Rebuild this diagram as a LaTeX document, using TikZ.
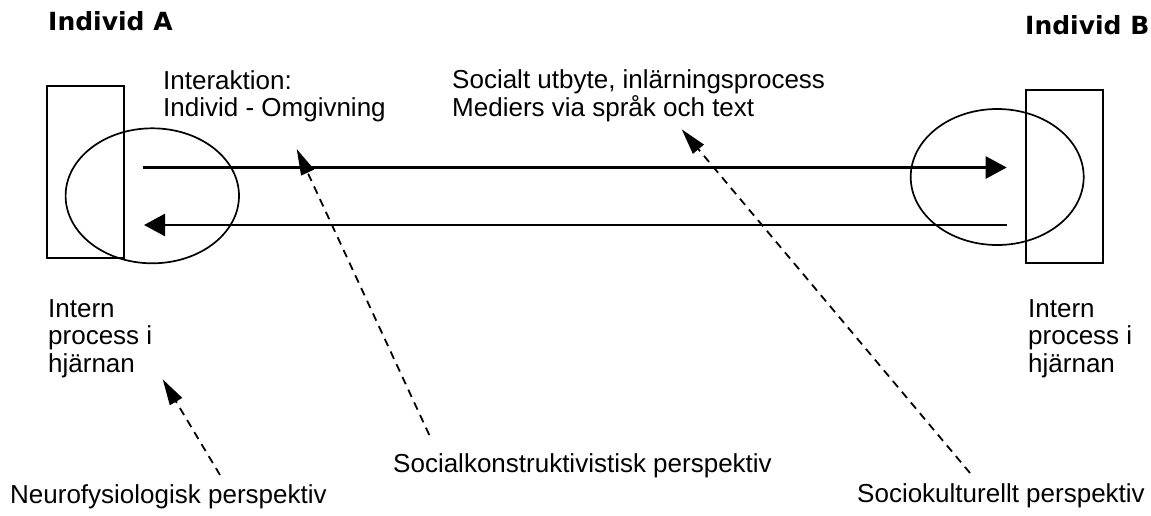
\documentclass[tikz,border=0pt]{standalone}
\usepackage{fontspec}
\setmainfont{Liberation Sans}
\newfontfamily\heavyfont{DejaVu Sans}
\usetikzlibrary{arrows.meta,shapes.geometric}
\tikzset{
  body/.style={font=\fontsize{26}{27.5}\selectfont, inner sep=0pt, anchor=base west, align=left},
  title/.style={font=\heavyfont\bfseries\fontsize{25}{28}\selectfont, inner sep=0pt, anchor=base west},
  boxshape/.style={draw, line width=1.7pt, rectangle, inner sep=0pt},
  oval/.style={draw, line width=1.7pt, ellipse, inner sep=0pt},
  flow/.style={line width=2.6pt, -{Triangle[length=21pt,width=22pt]}},
  pointer/.style={line width=1.8pt, dash pattern=on 8pt off 6pt, -{Triangle[length=26pt,width=14pt]}}
}
\begin{document}
\begin{tikzpicture}[x=1pt,y=-1pt]
\useasboundingbox (0,0) rectangle (1151,515);
% individuals
\node[title] (tA) at (48,30) {Individ A};
\node[title] (tB) at (1025,34) {Individ B};
% brains
\node[boxshape, minimum width=77.3pt, minimum height=172.6pt] (rA) at (85.35,172) {};
\node[boxshape, minimum width=77.3pt, minimum height=173.3pt] (rB) at (1064.65,176.65) {};
\node[oval, minimum width=173.4pt, minimum height=135pt] (eA) at (152.3,195.8) {};
\node[oval, minimum width=173pt, minimum height=136pt] (eB) at (997.2,177) {};
% flow arrows
\coordinate (fA1) at (143.3,167.5);
\coordinate (fB1) at (1006.7,167.5);
\coordinate (fB2) at (1007.3,225);
\coordinate (fA2) at (144,225);
\draw[flow] (fA1) -- (fB1);
\draw[flow] (fB2) -- (fA2);
% labels (base anchor = last line's baseline)
\node[body] (inter) at (163,116.7) {Interaktion:\\Individ - Omgivning};
\node[body] (socx) at (452,116) {Socialt utbyte, inlärningsprocess\\Mediers via språk och text};
\node[body] (intA) at (48,372) {Intern\\process i\\hjärnan};
\node[body] (intB) at (1028,372) {Intern\\process i\\hjärnan};
\node[body] (pSK) at (393,472) {Socialkonstruktivistisk perspektiv};
\node[body] (pNF) at (10,503) {Neurofysiologisk perspektiv};
\node[body] (pSC) at (857,502) {Sociokulturellt perspektiv};
% pointer arrows
\coordinate (nfT) at (220,475);
\coordinate (nfH) at (162.7,379.3);
\coordinate (skT) at (429.3,435);
\coordinate (skH) at (296.7,149);
\coordinate (scT) at (970,473);
\coordinate (scH) at (681.7,129.3);
\draw[pointer] (nfT) -- (nfH);
\draw[pointer] (skT) -- (skH);
\draw[pointer] (scT) -- (scH);
\end{tikzpicture}
\end{document}
